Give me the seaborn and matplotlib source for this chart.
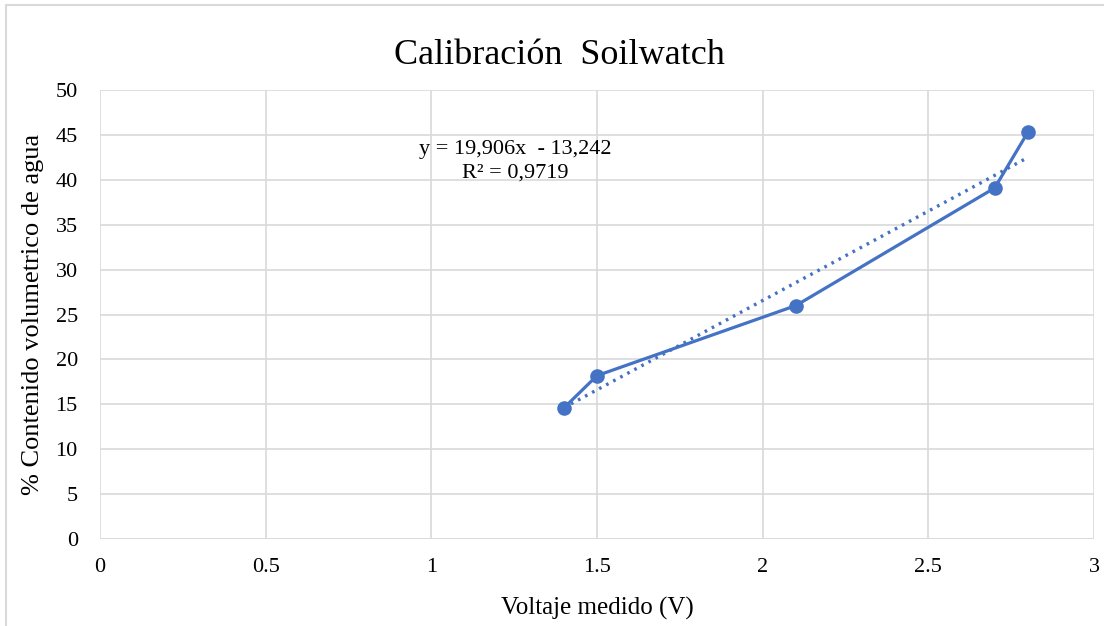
import matplotlib
matplotlib.use("Agg")
import matplotlib.pyplot as plt
import seaborn as sns
import numpy as np
import pandas as pd
from matplotlib.patches import Rectangle

# datos
voltaje = [1.4, 1.5, 2.1, 2.7, 2.8]
contenido = [14.6, 18.2, 26.0, 39.1, 45.3]
pendiente = 19.906
intercepto = -13.242
r2 = 0.9719

xticks = [0, 0.5, 1, 1.5, 2, 2.5, 3]
xtick_labels = ["0", "0.5", "1", "1.5", "2", "2.5", "3"]
yticks = list(range(0, 51, 5))

color = "#4472C4"

sns.set_style("white")
plt.rcParams["font.family"] = ["Liberation Serif", "DejaVu Serif"]
plt.rcParams["text.color"] = "black"
plt.rcParams["axes.labelcolor"] = "black"
plt.rcParams["xtick.color"] = "black"
plt.rcParams["ytick.color"] = "black"

df = pd.DataFrame({"Voltaje": voltaje, "Contenido": contenido})

fig = plt.figure(figsize=(11.04, 6.26), dpi=100)
ax = fig.add_axes([0.0906, 0.139, 0.9004, 0.717])

sns.lineplot(data=df, x="Voltaje", y="Contenido", ax=ax, color=color,
             linewidth=2.3, marker="o", markersize=10.5, markeredgewidth=0,
             sort=False, zorder=3)

# linea de tendencia
xt = np.array([min(voltaje), max(voltaje)])
ax.plot(xt, pendiente * xt + intercepto, color=color, linestyle=(0, (0.8, 1.6)),
        linewidth=2.4, zorder=2)

ax.text(1.252, 43.4, f"y = {pendiente:.3f}x  - {abs(intercepto):.3f}".replace(".", ","),
        ha="center", va="center", fontsize=16)
ax.text(1.252, 40.8, f"R² = {r2:.4f}".replace(".", ","),
        ha="center", va="center", fontsize=16)

ax.set_xlim(0, 3)
ax.set_ylim(0, 50)
ax.set_xticks(xticks)
ax.set_xticklabels(xtick_labels)
ax.set_yticks(yticks)
ax.grid(True, color="#D9D9D9", linewidth=1.2)
for s in ax.spines.values():
    s.set_visible(False)
ax.axhline(0, color="#D9D9D9", linewidth=1.2)
ax.tick_params(axis="x", labelsize=16, length=0, pad=14)
ax.tick_params(axis="y", labelsize=16, length=0, pad=16)

ax.set_xlabel("Voltaje medido (V)", fontsize=18, labelpad=14)
ax.set_ylabel("% Contenido volumetrico de agua", fontsize=19, labelpad=8)
fig.text(0.507, 0.912, "Calibración  Soilwatch", fontsize=26, ha="center", va="center")

fig.patches.append(Rectangle((0.005, -0.01), 1.1, 1.002, transform=fig.transFigure,
                             fill=False, edgecolor="#D9D9D9", linewidth=1.5))

fig.savefig("out.png", dpi=100)
